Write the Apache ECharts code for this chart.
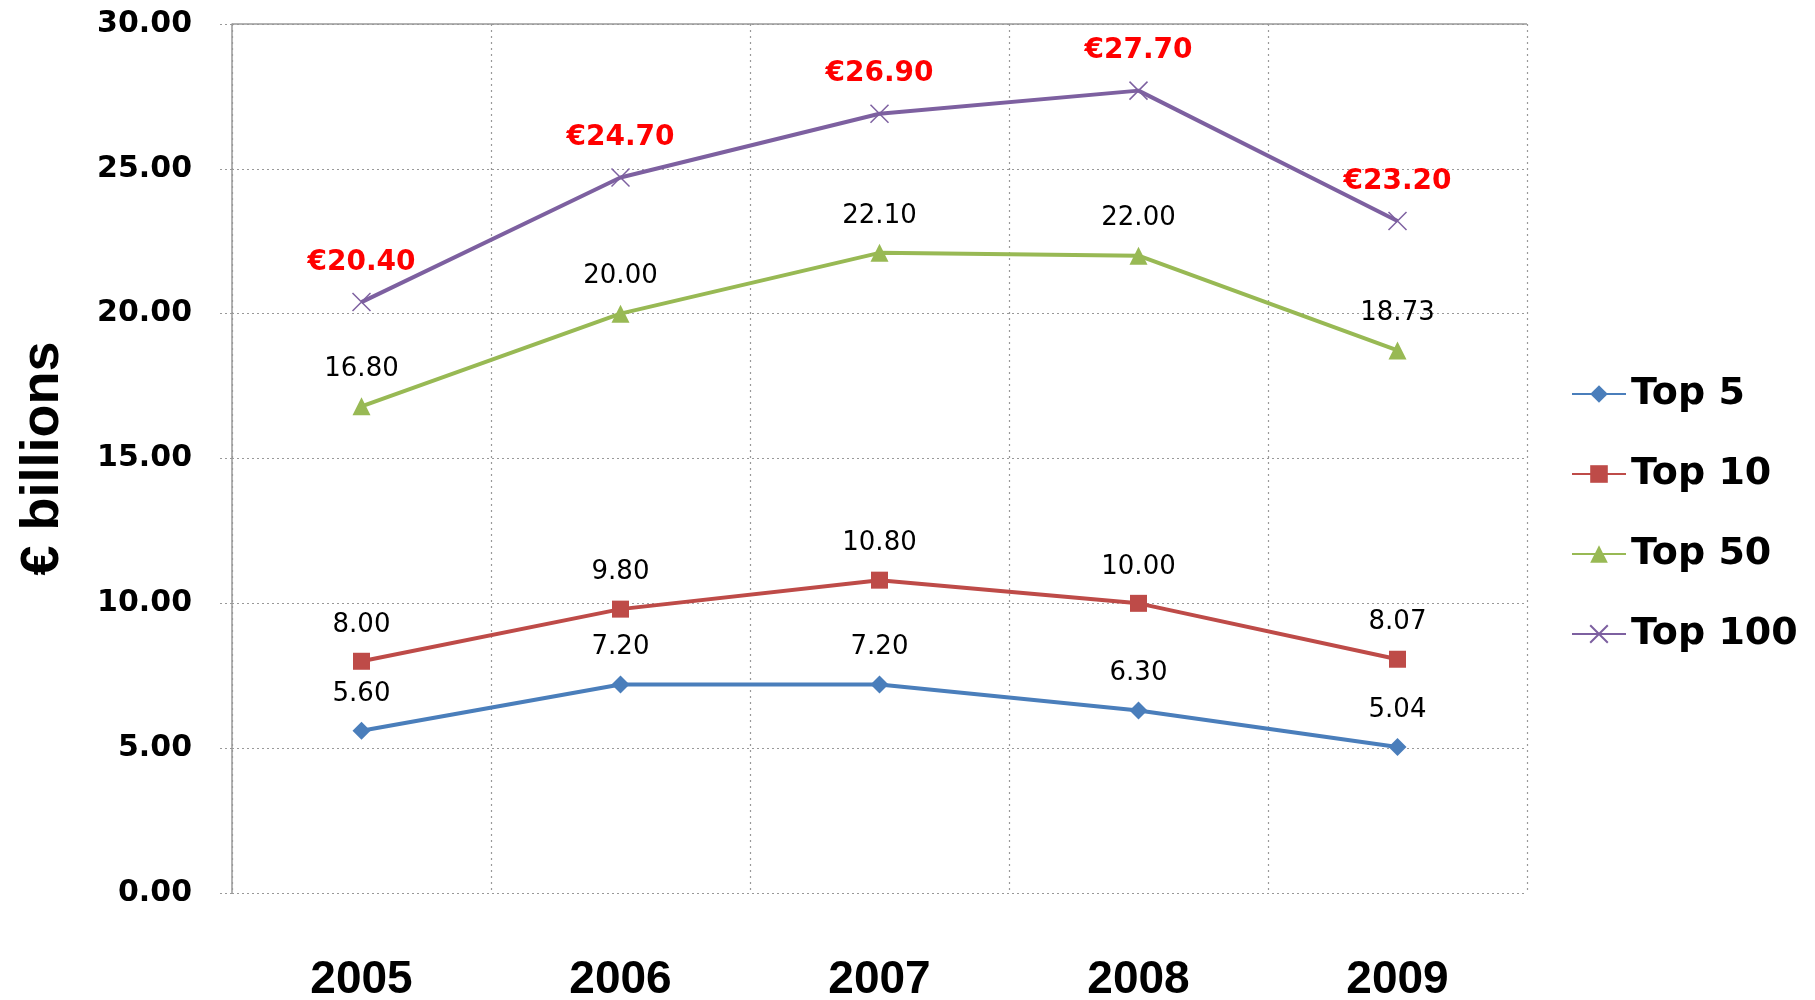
<!DOCTYPE html>
<html>
<head>
<meta charset="utf-8">
<script src="https://cdn.jsdelivr.net/npm/echarts@6/dist/echarts.min.js"></script>
<style>html,body{margin:0;padding:0;background:#fff;}#c{width:1815px;height:1000px;}</style>
</head>
<body>
<div id="c"></div>
<script>
const categories = ['2005', '2006', '2007', '2008', '2009'];
const top5 = [5.60, 7.20, 7.20, 6.30, 5.04];
const top10 = [8.00, 9.80, 10.80, 10.00, 8.07];
const top50 = [16.80, 20.00, 22.10, 22.00, 18.73];
const top100 = [20.40, 24.70, 26.90, 27.70, 23.20];
const seriesNames = ['Top 5', 'Top 10', 'Top 50', 'Top 100'];
const yMin = 0, yMax = 30, yStep = 5;

const colors = ['#4A7EBB', '#BE4B48', '#98B954', '#7D60A0'];
const blackLabel = {
  show: true, position: 'top', distance: 15,
  fontFamily: 'DejaVu Sans', fontSize: 26, color: '#000',
  formatter: p => p.value.toFixed(2)
};
const redLabel = {
  show: true, position: 'top', distance: 16,
  fontFamily: 'DejaVu Sans', fontSize: 28, fontWeight: 'bold', color: '#FF0000',
  formatter: p => '€' + p.value.toFixed(2)
};
function mk(name, data, idx, symbol, size, label, extra) {
  return Object.assign({
    name, type: 'line', data, symbol, symbolSize: size,
    lineStyle: { color: colors[idx], width: 4 },
    itemStyle: { color: colors[idx] },
    label, z: 3 + idx
  }, extra || {});
}
const chart = echarts.init(document.getElementById('c'));
chart.setOption({
  animation: false,
  backgroundColor: '#fff',
  grid: { left: 232, right: 288, top: 24, bottom: 107, containLabel: false, outerBoundsMode: 'none' },
  legend: {
    orient: 'vertical', left: 1566, top: 369, itemGap: 40,
    itemWidth: 54, itemHeight: 22,
    textStyle: { fontFamily: 'DejaVu Sans', fontSize: 38, fontWeight: 'bold', color: '#000', lineHeight: 40 },
    data: seriesNames
  },
  xAxis: {
    type: 'category', data: categories, boundaryGap: true,
    axisLine: { show: false }, axisTick: { show: false },
    axisLabel: { margin: 64, fontFamily: 'Liberation Sans', fontWeight: 'bold', fontSize: 46, color: '#000' },
    splitLine: { show: true, lineStyle: { color: '#999', type: [2, 4], width: 1.2 } }
  },
  yAxis: {
    type: 'value', min: yMin, max: yMax, interval: yStep,
    name: '€ billions', nameLocation: 'middle', nameGap: 162, nameRotate: 90,
    nameTextStyle: { fontFamily: 'Liberation Sans', fontWeight: 'bold', fontSize: 54, color: '#000' },
    axisLine: { show: true, lineStyle: { color: '#999', width: 1.5 } },
    axisTick: { show: true, length: 13, lineStyle: { color: '#999', type: [2, 3] } },
    axisLabel: { margin: 40, fontFamily: 'DejaVu Sans', fontWeight: 'bold', fontSize: 30, color: '#000', formatter: v => v.toFixed(2) },
    splitLine: { show: true, lineStyle: { color: '#999', type: [2, 3], width: 1.2 } }
  },
  series: [
    mk('Top 5', top5, 0, 'diamond', 18, blackLabel),
    mk('Top 10', top10, 1, 'rect', 17, blackLabel),
    mk('Top 50', top50, 2, 'triangle', 18, blackLabel),
    mk('Top 100', top100, 3, 'path://M0,0L10,10M10,0L0,10', 18, redLabel, {
      itemStyle: { color: 'rgba(0,0,0,0)', borderColor: colors[3], borderWidth: 1.5 },
      markLine: {
        silent: true, symbol: 'none', label: { show: false },
        lineStyle: { color: '#999', type: 'solid', width: 1.5 },
        data: [{ yAxis: yMax }]
      }
    })
  ]
});
</script>
</body>
</html>
